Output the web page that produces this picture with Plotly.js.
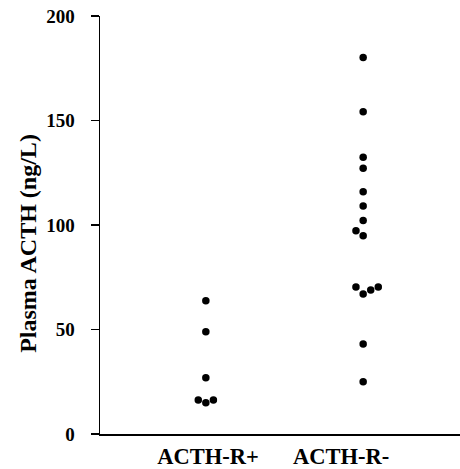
<!DOCTYPE html>
<html>
<head>
<meta charset="utf-8">
<script src="https://cdn.plot.ly/plotly-3.0.1.min.js"></script>
<style>
  html, body { margin: 0; padding: 0; background: #fff; }
  #chart { width: 460px; height: 469px; }
</style>
</head>
<body>
<div id="chart"></div>
<script>
// Data
const categories = ['ACTH-R+', 'ACTH-R-'];
const acthRPlus  = [63.8, 48.9, 26.9, 16.3, 15.0, 16.3];
const acthRMinus = [180.2, 154.2, 132.4, 127.1, 115.9, 109.1, 102.2, 97.3, 94.9, 70.3, 67.0, 68.9, 70.3, 43.1, 25.0];
// horizontal jitter of each dot (in axis units) as drawn
const jitterPlus  = [0, 0, 0, -0.21, 0, 0.21];
const jitterMinus = [0, 0, 0, 0, 0, 0, 0, -0.2, 0, -0.2, 0, 0.21, 0.42, 0, 0];
const yTicks = [0, 50, 100, 150, 200];
const yTitle = 'Plasma ACTH (ng/L)';

const groupCenter = [2.94, 7.31];
const labelPos = [3.0, 6.7];

const xPlus = acthRPlus.map((v, i) => groupCenter[0] + jitterPlus[i]);
const xMinus = acthRMinus.map((v, i) => groupCenter[1] + jitterMinus[i]);

const markerStyle = { color: '#000', size: 7.5 };
const traces = [
  { x: xPlus, y: acthRPlus, type: 'scatter', mode: 'markers', marker: markerStyle, name: categories[0], hoverinfo: 'y' },
  { x: xMinus, y: acthRMinus, type: 'scatter', mode: 'markers', marker: markerStyle, name: categories[1], hoverinfo: 'y' }
];

const font = { family: '"Liberation Serif", "Times New Roman", serif', color: '#000' };

const layout = {
  width: 460, height: 469,
  margin: { l: 100, r: 0, t: 16, b: 35 },
  paper_bgcolor: '#fff', plot_bgcolor: '#fff',
  showlegend: false,
  font: font,
  xaxis: {
    range: [0, 10],
    showgrid: false, zeroline: false,
    showline: true, linecolor: '#000', linewidth: 1.5,
    ticks: '',
    tickvals: labelPos,
    ticktext: categories.map(c => '<b>' + c + '</b>'),
    tickfont: { family: font.family, size: 22.5, color: '#000' },
    ticklabelstandoff: 1
  },
  yaxis: {
    range: [0, 200],
    showgrid: false, zeroline: false,
    showline: true, linecolor: '#000', linewidth: 1.5,
    ticks: 'outside', ticklen: 8, tickwidth: 1.5, tickcolor: '#000',
    tickvals: yTicks,
    ticktext: yTicks.map(t => '<b>' + t + '</b>'),
    tickfont: { family: font.family, size: 19, color: '#000' },
    ticklabelstandoff: 12
  },
  annotations: [{
    text: '<b>' + yTitle + '</b>',
    xref: 'paper', yref: 'paper',
    x: -0.2, y: 0.455,
    xanchor: 'center', yanchor: 'middle',
    textangle: -90, showarrow: false,
    font: { family: font.family, size: 24, color: '#000' }
  }]
};

Plotly.newPlot('chart', traces, layout, { displayModeBar: false, staticPlot: true });
</script>
</body>
</html>
